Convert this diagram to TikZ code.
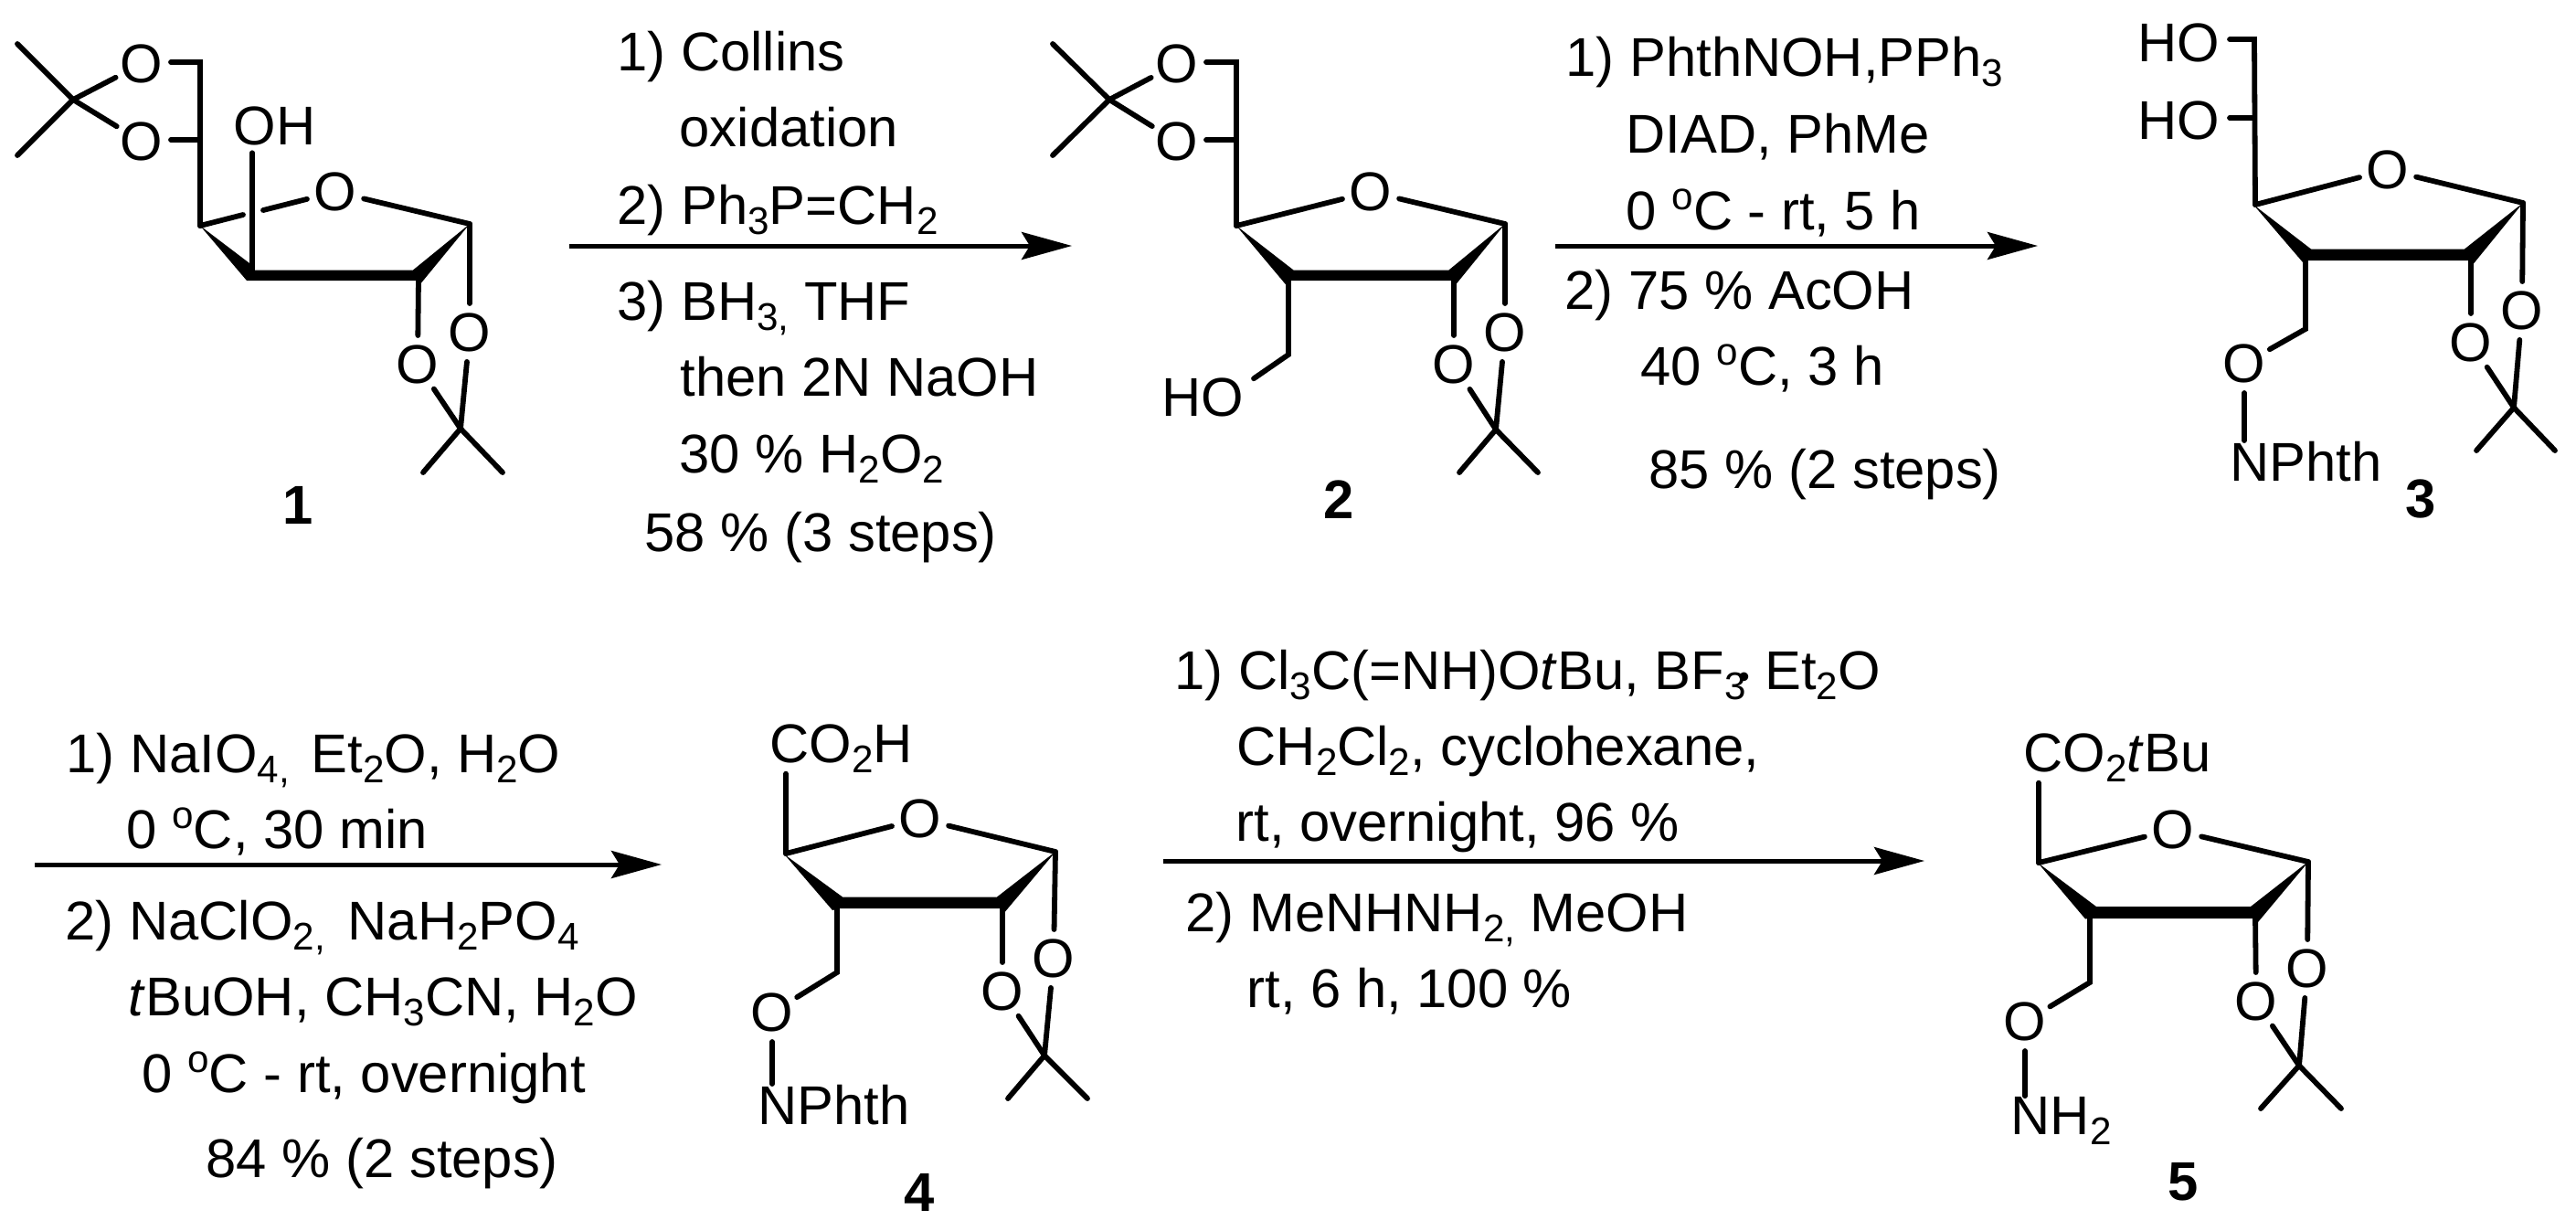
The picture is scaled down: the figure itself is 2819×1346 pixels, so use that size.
\documentclass[tikz,border=0pt]{standalone}
\usepackage{fontspec}
\setmainfont{Liberation Sans}
\usetikzlibrary{arrows.meta}
\newcommand{\dn}[1]{\raisebox{-.2em}{\fontsize{12}{12}\selectfont #1}}
\newcommand{\up}[1]{\raisebox{.36em}{\fontsize{12}{12}\selectfont #1}}
\newcommand{\dotadd}{\kern-.14em\raisebox{.02em}{\fontsize{10}{10}\selectfont\textbullet}}
\begin{document}
\begin{tikzpicture}[x=0.1mm, y=-0.1mm,
            every node/.style={font=\fontsize{17}{17}\selectfont},
            o/.style={circle,inner sep=0pt,minimum size=5.8mm},
            lab/.style={inner xsep=1mm,inner ysep=0pt,anchor=base west},
            txt/.style={inner sep=0pt,anchor=base west},
            num/.style={inner sep=0pt,font=\fontsize{17}{17}\selectfont\bfseries},
            b/.style={line width=0.58mm,line cap=round,line join=miter},
            arr/.style={line width=0.5mm,-{Stealth[length=5.5mm,width=3mm,inset=0.9mm]}}]
            \useasboundingbox (0,0) rectangle (2819,1346);

            \node[o] (o1a) at (155,70) {O};
            \node[o] (o1b) at (155,155) {O};
            \node[o] (o1r) at (367,210) {O};
            \node[o] (o1c) at (457,399) {O};
            \node[o] (o1d) at (514,364) {O};
            \node[txt] (oh1) at (255,158) {OH};
            \node[num] (lab1) at (326,553) {1};
            \coordinate (me1a) at (19,48);
            \coordinate (me1b) at (19,170);
            \coordinate (q1a) at (80,109);
            \coordinate (ch1) at (219,68);
            \coordinate (j1) at (219,153);
            \coordinate (c1d) at (219,247);
            \coordinate (c1c) at (276,295);
            \coordinate (c1b) at (458,305);
            \coordinate (c1a) at (514,245);
            \coordinate (gap1a) at (266,235);
            \coordinate (gap1b) at (288,230);
            \coordinate (q1b) at (504,469);
            \coordinate (me1c) at (463,517);
            \coordinate (me1d) at (550,517);
            \fill (219,247) -- (273,288) -- (279,295.5) -- (452,295.5) -- (514,245) -- (459,312) -- (455,307) -- (270,307) -- cycle;
            \draw[b] (me1a) to (q1a) to (me1b);
            \draw[b] (q1a) to (o1a);
            \draw[b] (q1a) to (o1b);
            \draw[b] (o1a.east |- ch1) to (ch1) to (c1d);
            \draw[b] (o1b.east |- j1) to (j1);
            \draw[b] (c1d) to (gap1a);
            \draw[b] (gap1b) to (o1r);
            \draw[b] (o1r) to (c1a);
            \draw[b,shorten >=0.8mm] (c1c) to (oh1.south -| c1c);
            \draw[b] (c1b) to (o1c);
            \draw[b] (c1a) to (o1d);
            \draw[b] (o1c) to (q1b);
            \draw[b] (o1d) to (q1b);
            \draw[b] (me1c) to (q1b) to (me1d);

            \node[o] (o2a) at (1288,70) {O};
            \node[o] (o2b) at (1288,155) {O};
            \node[o] (o2r) at (1500,210) {O};
            \node[o] (o2c) at (1591,399) {O};
            \node[o] (o2d) at (1647,364) {O};
            \node[lab] (ho2) at (1261,455) {HO};
            \node[num] (lab2) at (1465,547) {2};
            \coordinate (me2a) at (1152,48);
            \coordinate (me2b) at (1152,170);
            \coordinate (q2a) at (1214,109);
            \coordinate (ch2) at (1353,68);
            \coordinate (j2) at (1353,153);
            \coordinate (c2d) at (1353,247);
            \coordinate (c2c) at (1410,300);
            \coordinate (c2b) at (1591,305);
            \coordinate (c2a) at (1647,245);
            \coordinate (c2e) at (1410,388);
            \coordinate (q2b) at (1637,470);
            \coordinate (me2c) at (1597,517);
            \coordinate (me2d) at (1683,517);
            \fill (1353,247) -- (1415.5,295.5) -- (1585.5,295.5) -- (1647,245) -- (1592.6,312) -- (1589.5,307) -- (1413,307) -- (1407.6,312) -- cycle;
            \draw[b] (me2a) to (q2a) to (me2b);
            \draw[b] (q2a) to (o2a);
            \draw[b] (q2a) to (o2b);
            \draw[b] (o2a.east |- ch2) to (ch2) to (c2d);
            \draw[b] (o2b.east |- j2) to (j2);
            \draw[b] (c2d) to (o2r);
            \draw[b] (o2r) to (c2a);
            \draw[b] (c2c) to (c2e) to (ho2.20);
            \draw[b] (c2b) to (o2c);
            \draw[b] (c2a) to (o2d);
            \draw[b] (o2c) to (q2b);
            \draw[b] (o2d) to (q2b);
            \draw[b] (me2c) to (q2b) to (me2d);

            \node[lab] (ho3a) at (2329,67) {HO};
            \node[lab] (ho3b) at (2329,152) {HO};
            \node[o] (o3r) at (2613,186) {O};
            \node[o] (o3e) at (2456,398) {O};
            \node[txt] (phth3) at (2440,526) {NPhth};
            \node[o] (o3c) at (2704,375) {O};
            \node[o] (o3d) at (2760,340) {O};
            \node[num] (lab3) at (2649,546) {3};
            \coordinate (ch3) at (2467,43);
            \coordinate (j3) at (2467,129);
            \coordinate (c3d) at (2468,224);
            \coordinate (c3c) at (2523,275);
            \coordinate (c3b) at (2704,280);
            \coordinate (c3a) at (2761,222);
            \coordinate (c3e) at (2523,360);
            \coordinate (q3b) at (2751,446);
            \coordinate (me3c) at (2710,493);
            \coordinate (me3d) at (2796,493);
            \fill (2466,224) -- (2529,272.5) -- (2697,272.5) -- (2761,222) -- (2706.5,289) -- (2702,285) -- (2526,285) -- (2520,287) -- cycle;
            \draw[b] (ho3a.east |- ch3) to (ch3) to (c3d);
            \draw[b] (ho3b.east |- j3) to (j3);
            \draw[b] (c3d) to (o3r);
            \draw[b] (o3r) to (c3a);
            \draw[b] (c3c) to (c3e) to (o3e);
            \draw[b] (o3e) to (phth3.north -| o3e);
            \draw[b] (c3b) to (o3c);
            \draw[b] (c3a) to (o3d);
            \draw[b] (o3c) to (q3b);
            \draw[b] (o3d) to (q3b);
            \draw[b] (me3c) to (q3b) to (me3d);

            \node[txt] (acid4) at (842,834) {CO\dn{2}H};
            \node[o] (o4r) at (1007,896) {O};
            \node[o] (o4e) at (845,1108) {O};
            \node[txt] (phth4) at (829,1230) {NPhth};
            \node[o] (o4c) at (1097,1085) {O};
            \node[o] (o4d) at (1153,1049) {O};
            \node[num] (lab4) at (1006,1305) {4};
            \coordinate (c4d) at (860,934);
            \coordinate (c4c) at (916,985);
            \coordinate (c4b) at (1097,990);
            \coordinate (c4a) at (1155,932);
            \coordinate (c4e) at (916,1064);
            \coordinate (q4b) at (1143,1155);
            \coordinate (me4c) at (1103,1202);
            \coordinate (me4d) at (1190,1202);
            \fill (858.5,935) -- (922,981.5) -- (1091,981.5) -- (1155.5,931.5) -- (1099.6,998) -- (1096,994) -- (919,994) -- (911,996) -- cycle;
            \draw[b] (c4d) to (acid4.south -| c4d);
            \draw[b] (c4d) to (o4r);
            \draw[b] (o4r) to (c4a);
            \draw[b] (c4c) to (c4e) to (o4e);
            \draw[b] (o4e) to (phth4.north -| o4e);
            \draw[b] (c4b) to (o4c);
            \draw[b] (c4a) to (o4d);
            \draw[b] (o4c) to (q4b);
            \draw[b] (o4d) to (q4b);
            \draw[b] (me4c) to (q4b) to (me4d);

            \node[txt] (ester5) at (2214,844) {CO\dn{2}\textit{t}Bu};
            \node[o] (o5r) at (2378,908) {O};
            \node[o] (o5e) at (2216,1118) {O};
            \node[txt] (amine5) at (2200,1241) {NH\dn{2}};
            \node[o] (o5c) at (2469,1096) {O};
            \node[o] (o5d) at (2525,1060) {O};
            \node[num] (lab5) at (2389,1293) {5};
            \coordinate (c5d) at (2231,944);
            \coordinate (c5c) at (2287,995);
            \coordinate (c5b) at (2468,1000);
            \coordinate (c5a) at (2526,943);
            \coordinate (c5e) at (2287,1075);
            \coordinate (q5b) at (2516,1166);
            \coordinate (me5c) at (2474,1213);
            \coordinate (me5d) at (2562,1213);
            \fill (2230,944) -- (2294,992) -- (2463,992) -- (2527,942) -- (2471,1009) -- (2468,1005) -- (2291,1005) -- (2282,1005.5) -- cycle;
            \draw[b] (c5d) to (ester5.south -| c5d);
            \draw[b] (c5d) to (o5r);
            \draw[b] (o5r) to (c5a);
            \draw[b] (c5c) to (c5e) to (o5e);
            \draw[b] (o5e) to (amine5.north -| o5e);
            \draw[b] (c5b) to (o5c);
            \draw[b] (c5a) to (o5d);
            \draw[b] (o5c) to (q5b);
            \draw[b] (o5d) to (q5b);
            \draw[b] (me5c) to (q5b) to (me5d);

            \coordinate (s1) at (623,269);
            \coordinate (e1) at (1173,269);
            \draw[arr] (s1) to (e1);
            \node[txt] (t1a) at (675,77) {1) Collins};
            \node[txt] (t1b) at (743,160) {oxidation};
            \node[txt] (t1c) at (675,245) {2) Ph\dn{3}P=CH\dn{2}};
            \node[txt] (t1d) at (675,350) {3) BH\dn{3,} THF};
            \node[txt] (t1e) at (744,433) {then 2N NaOH};
            \node[txt] (t1f) at (743,517) {30 \% H\dn{2}O\dn{2}};
            \node[txt] (t1g) at (705,603) {58 \% (3 steps)};

            \coordinate (s2) at (1702,269);
            \coordinate (e2) at (2230,269);
            \draw[arr] (s2) to (e2);
            \node[txt] (t2a) at (1713,83) {1) PhthNOH,PPh\dn{3}};
            \node[txt] (t2b) at (1779,167) {DIAD, PhMe};
            \node[txt] (t2c) at (1779,251) {0 \up{o}C - rt, 5 h};
            \node[txt] (t2d) at (1712,338) {2) 75 \% AcOH};
            \node[txt] (t2e) at (1795,421) {40 \up{o}C, 3 h};
            \node[txt] (t2f) at (1804,534) {85 \% (2 steps)};

            \coordinate (s3) at (38,946);
            \coordinate (e3) at (724,946);
            \draw[arr] (s3) to (e3);
            \node[txt] (t3a) at (72,845) {1) NaIO\dn{4,}\kern.12em{} Et\dn{2}O, H\dn{2}O};
            \node[txt] (t3b) at (138,928) {0 \up{o}C, 30 min};
            \node[txt] (t3c) at (71,1028) {2) NaClO\dn{2,}\kern.14em{} NaH\dn{2}PO\dn{4}};
            \node[txt] (t3d) at (140,1111) {\textit{t}BuOH, CH\dn{3}CN, H\dn{2}O};
            \node[txt] (t3e) at (155,1195) {0 \up{o}C - rt, overnight};
            \node[txt] (t3f) at (225,1288) {84 \% (2 steps)};

            \coordinate (s4) at (1273,942);
            \coordinate (e4) at (2106,942);
            \draw[arr] (s4) to (e4);
            \node[txt] (t4a) at (1285,754) {1) Cl\dn{3}C(=NH)O\textit{t}Bu, BF\dn{3}\dotadd{} Et\dn{2}O};
            \node[txt] (t4b) at (1353,837) {CH\dn{2}Cl\dn{2}, cyclohexane,};
            \node[txt] (t4c) at (1352,920) {rt, overnight, 96 \%};
            \node[txt] (t4d) at (1297,1019) {2) MeNHNH\dn{2,} MeOH};
            \node[txt] (t4e) at (1364,1102) {rt, 6 h, 100 \%};
\end{tikzpicture}
\end{document}
